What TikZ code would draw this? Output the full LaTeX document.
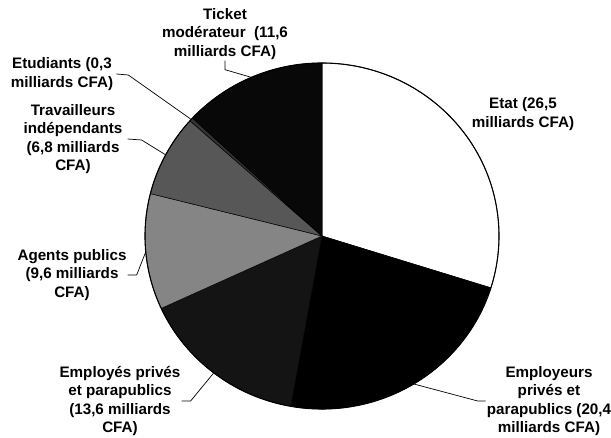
\documentclass[tikz,border=0pt]{standalone}
\usepackage{fontspec}
\setmainfont{Liberation Sans}
\usetikzlibrary{calc}
\begin{document}
\begin{tikzpicture}[x=1pt,y=-1pt,
  lbl/.style={font=\bfseries\fontsize{15.2}{18.4}\selectfont, align=center, inner sep=1pt},
  leader/.style={draw=black, line width=0.7pt},
  slice/.style={draw=black, line width=0.5pt}]
\useasboundingbox (0,0) rectangle (611,438);
\coordinate (C) at (322,236);
% one pie sector: start angle, end angle (counter-clockwise degrees), fill colour
\newcommand\piesector[3]{%
  \filldraw[slice, fill=#3] (C) -- ++(-#1:177 and 173)
    arc[start angle=-#1, end angle=-#2, x radius=177, y radius=173] -- cycle;}
\piesector{90}{-17.43}{white}
\piesector{-17.43}{-100.14}{black}
\piesector{-100.14}{-155.27}{black!92}
\piesector{-155.27}{-194.19}{black!48}
\piesector{-194.19}{-221.76}{black!66}
\piesector{-221.76}{-222.97}{black!80}
\piesector{-222.97}{-270}{black!97}
\draw[line width=1.1pt] (C) ellipse[x radius=177, y radius=173];

% points on the rim where the leader lines end
\path (C) ++(246.5:177 and 173) coordinate (eTick);
\path (C) ++(222.36:177 and 173) coordinate (eEtu);
\path (C) ++(207.97:177 and 173) coordinate (eTrav);
\path (C) ++(174.73:177 and 173) coordinate (eAgt);
\path (C) ++(127.7:177 and 173) coordinate (eEmp);
\path (C) ++(58.79:177 and 173) coordinate (eEmpr);

% labels
\node[lbl] (tick) at (225,34) {Ticket\\mod\'erateur\ \ (11,6\\milliards CFA)};
\node[lbl] (etu) at (62,74) {Etudiants (0,3\\milliards CFA)};
\node[lbl] (trav) at (73,139) {Travailleurs\\ind\'ependants\\(6,8 milliards\\CFA)};
\node[lbl] (agt) at (72,275) {Agents publics\\(9,6 milliards\\CFA)};
\node[lbl] (emp) at (120,401) {Employ\'es priv\'es\\et parapublics\\(13,6 milliards\\CFA)};
\node[lbl] (empr) at (549,401) {Employeurs\\priv\'es et\\parapublics (20,4\\milliards CFA)};
\node[lbl] (etat) at (523,114) {Etat (26,5\\milliards CFA)};

% leader lines
\draw[leader] (tick.south) -- ++(0,9) -- (eTick);
\draw[leader] ([xshift=2pt]etu.east) -- ++(12,1) -- (eEtu);
\draw[leader] ([xshift=4pt]trav.east) -- ++(14,1) -- (eTrav);
\draw[leader] (agt.east) -- ++(9,0) -- (eAgt);
\draw[leader] (emp.east) -- ++(9,0) -- (eEmp);
\draw[leader] (empr.west) -- ++(-8,0) -- (eEmpr);
\end{tikzpicture}
\end{document}
